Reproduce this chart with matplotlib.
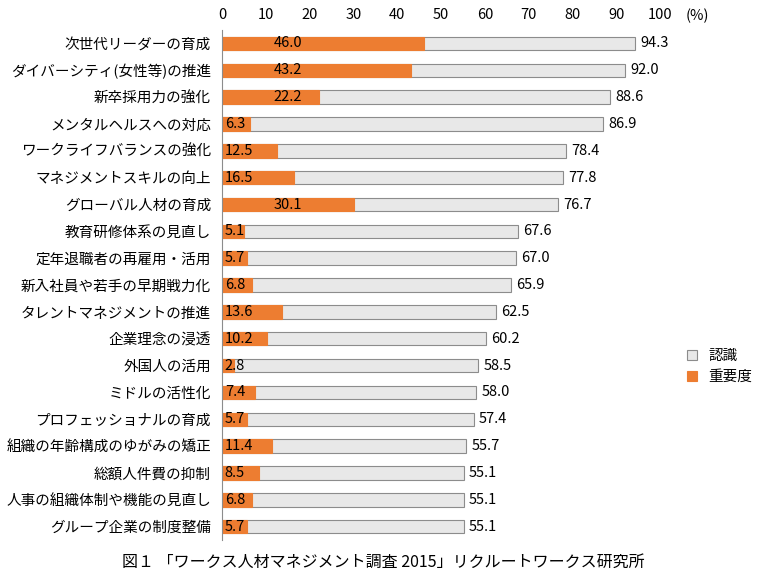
import matplotlib
matplotlib.use("Agg")
import matplotlib.pyplot as plt

plt.rcParams["font.family"] = "Noto Sans CJK JP"

categories = ["次世代リーダーの育成", "ダイバーシティ(女性等)の推進", "新卒採用力の強化", "メンタルヘルスへの対応",
              "ワークライフバランスの強化", "マネジメントスキルの向上", "グローバル人材の育成", "教育研修体系の見直し",
              "定年退職者の再雇用・活用", "新入社員や若手の早期戦力化", "タレントマネジメントの推進", "企業理念の浸透",
              "外国人の活用", "ミドルの活性化", "プロフェッショナルの育成", "組織の年齢構成のゆがみの矯正",
              "総額人件費の抑制", "人事の組織体制や機能の見直し", "グループ企業の制度整備"]
ninshiki = [94.3, 92.0, 88.6, 86.9, 78.4, 77.8, 76.7, 67.6, 67.0, 65.9, 62.5, 60.2, 58.5, 58.0, 57.4, 55.7, 55.1, 55.1, 55.1]
juuyou = [46.0, 43.2, 22.2, 6.3, 12.5, 16.5, 30.1, 5.1, 5.7, 6.8, 13.6, 10.2, 2.8, 7.4, 5.7, 11.4, 8.5, 6.8, 5.7]
xticks = [0, 10, 20, 30, 40, 50, 60, 70, 80, 90, 100]

fig = plt.figure(figsize=(7.66, 5.77), dpi=100)
ax = fig.add_axes([0.29, 0.064, 0.572, 0.884])
y = list(range(len(categories)))
ax.barh(y, ninshiki, height=0.5, color="#e8e8e8", edgecolor="#8c8c8c", linewidth=0.8, label="認識")
ax.barh(y, juuyou, height=0.5, color="#ed7d31", edgecolor="#ed7d31", linewidth=0.8, label="重要度")
for yi, n, j in zip(y, ninshiki, juuyou):
    ax.text(n + 1.2, yi, f"{n:.1f}", va="center", ha="left", fontsize=10.5)
    if j > 20:
        ax.text(15, yi, f"{j:.1f}", va="center", ha="center", fontsize=10.5)
    else:
        ax.text(0.6, yi, f"{j:.1f}", va="center", ha="left", fontsize=10.5)
ax.set_ylim(len(categories) - 0.5, -0.5)
ax.set_xlim(0, 100)
ax.set_xticks(xticks)
ax.xaxis.tick_top()
ax.tick_params(axis="x", length=0, labelsize=10.5, pad=6)
ax.set_yticks(y)
ax.set_yticklabels(categories, fontsize=10.5)
ax.tick_params(axis="y", length=0, pad=8)
for s in ["top", "right", "bottom"]:
    ax.spines[s].set_visible(False)
ax.spines["left"].set_color("#8c8c8c")
fig.text(0.895, 0.972, "(%)", fontsize=10.5, va="center")
leg = ax.legend(loc="center left", bbox_to_anchor=(1.03, 0.34), frameon=False, fontsize=10.5,
                handlelength=0.7, handleheight=0.7)
fig.text(0.5, 0.025, "図１ 「ワークス人材マネジメント調査 2015」リクルートワークス研究所",
         ha="center", va="center", fontsize=11.5)
fig.savefig("out.png", dpi=100)
